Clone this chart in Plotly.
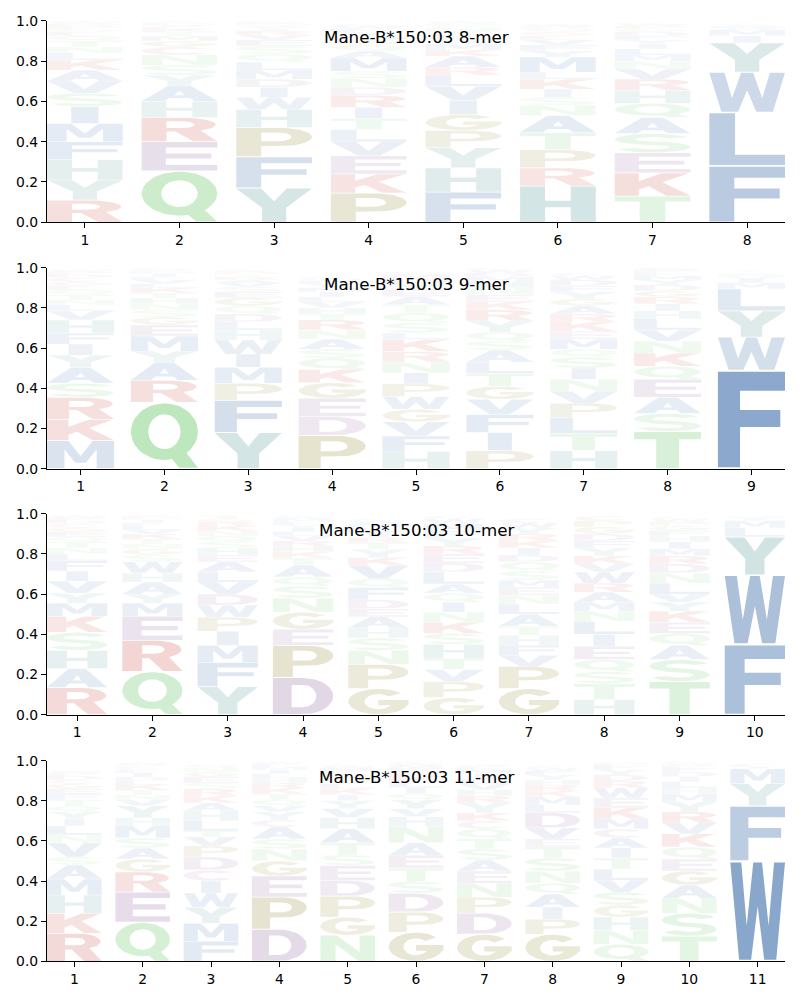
import numpy as np
import plotly.graph_objects as go

# ---------------- data ----------------
allele = "Mane-B*150:03"
lengths = [8, 9, 10, 11]

# letters of each position, bottom to top, and their heights (probabilities)
mer8_letters = ["RYHFMISVAKLNTQEGPDWC", "QERHAYSNCGMTKLVDFIPW", "YFPHWIDMLQSEVRTANKGC",
                "PKEVLTIRDNSMAQGHYFWC", "FHYPGIVLRAKMSETNQDWC", "HRPTANSIKLMYFVEGQDWC",
                "TKESAQHRVNMLIYFDGPWC", "FLWYIMVHACKREDSTNQGP"]
mer8_heights = [
    [.11, .10, .10, .09, .09, .085, .065, .06, .055, .05, .035, .03, .03, .025, .02, .015, .015, .01, .01, .005],
    [.255, .145, .12, .08, .08, .05, .05, .05, .04, .03, .025, .02, .015, .01, .01, .008, .005, .004, .003, .002],
    [.17, .155, .145, .09, .06, .05, .04, .045, .04, .04, .04, .03, .025, .02, .015, .01, .01, .008, .005, .002],
    [.145, .095, .09, .07, .06, .055, .055, .06, .04, .045, .035, .065, .035, .03, .025, .02, .02, .015, .015, .01],
    [.15, .12, .10, .085, .08, .07, .07, .055, .04, .055, .03, .03, .025, .02, .02, .015, .01, .01, .01, .005],
    [.18, .09, .09, .085, .085, .05, .04, .04, .05, .035, .075, .03, .03, .025, .02, .02, .015, .01, .01, .005],
    [.13, .115, .10, .095, .08, .07, .065, .055, .05, .04, .03, .03, .025, .02, .02, .02, .015, .015, .01, .005],
    [.28, .265, .20, .145, .035, .03, .01, .008, .005, .003, .003, .002, .002, .002, .002, .002, .001, .001, .001, .001],
]

mer9_letters = ["MKRSAYIFHVLNTQEGCDPW", "QRAYMEGSNHTKLVFIDPCW", "YFPMIWHLDQGESVARTNKC",
                "PDEGKQSANRTHVLIMYFWC", "HFVGWPINRKLSQTAEYDMC", "PIFVGTLASQYRKENHMDWC",
                "HTLPVNISQMEKRAGYFDWC", "TSAEQKNVLHIRGDYMFPWC", "FWYLMIVHACKREDSTNQGP"]
mer9_heights = [
    [.14, .105, .11, .07, .08, .06, .055, .055, .065, .045, .03, .025, .025, .025, .02, .02, .02, .015, .015, .01],
    [.33, .11, .09, .055, .075, .055, .04, .035, .03, .03, .025, .025, .02, .02, .015, .015, .01, .01, .01, .005],
    [.18, .16, .085, .08, .065, .07, .05, .04, .04, .04, .04, .03, .025, .02, .015, .015, .01, .01, .01, .005],
    [.165, .095, .09, .078, .065, .057, .045, .05, .045, .05, .03, .03, .03, .025, .025, .02, .02, .015, .01, .01],
    [.085, .078, .07, .063, .063, .063, .055, .056, .05, .06, .033, .05, .05, .04, .04, .035, .03, .025, .02, .015],
    [.09, .09, .09, .075, .065, .065, .055, .06, .045, .045, .055, .055, .04, .035, .035, .03, .025, .02, .015, .01],
    [.09, .085, .08, .07, .06, .06, .055, .055, .04, .05, .04, .045, .04, .04, .035, .035, .03, .03, .02, .015],
    [.185, .09, .08, .09, .065, .065, .06, .055, .055, .04, .035, .035, .03, .03, .025, .02, .015, .015, .005, .005],
    [.49, .165, .13, .11, .03, .02, .01, .01, .005, .005, .003, .003, .002, .002, .002, .002, .002, .002, .001, .001],
]

mer10_letters = ["RAHSKMYVIFLNTQEGCDPW", "QREMYAHWSGNTKVLFIDPC", "YFMIPWDVLAEHSQNKRGTC",
                 "DPEGNSQATKHRVLIYFMWC", "GPNSHAEDFQVKYTRILMWC", "GPVTHSKNIQALDERYFMWC",
                 "GPVFHTALNEMSQDIKRYWC", "HTSQEILNMARWVKYFDGPC", "TSAQEKYVLNDRMIHFGPWC",
                 "FWYLMIVHACDEGKNPQRST"]
mer10_heights = [
    [.135, .095, .09, .09, .08, .065, .05, .06, .05, .05, .035, .03, .03, .025, .025, .02, .02, .015, .015, .01],
    [.215, .155, .12, .065, .045, .06, .045, .055, .035, .03, .025, .025, .025, .02, .02, .015, .015, .01, .01, .005],
    [.14, .12, .085, .07, .07, .06, .055, .06, .05, .05, .035, .035, .03, .03, .025, .025, .02, .015, .015, .005],
    [.185, .16, .08, .085, .07, .06, .045, .06, .035, .03, .03, .025, .025, .02, .02, .015, .015, .015, .01, .005],
    [.13, .12, .07, .062, .05, .055, .04, .045, .06, .045, .065, .04, .04, .035, .025, .025, .025, .02, .015, .01],
    [.085, .08, .06, .055, .07, .055, .055, .05, .05, .045, .045, .06, .045, .045, .04, .04, .035, .035, .025, .015],
    [.13, .11, .055, .05, .05, .045, .06, .05, .045, .04, .035, .045, .045, .035, .035, .035, .035, .03, .025, .02],
    [.075, .08, .06, .06, .065, .06, .065, .05, .045, .05, .045, .055, .04, .04, .04, .035, .035, .035, .03, .025],
    [.165, .11, .07, .06, .055, .055, .045, .04, .055, .05, .045, .04, .035, .035, .03, .025, .025, .02, .015, .01],
    [.35, .345, .19, .045, .035, .01, .005, .005, .002, .002, .001, .001, .001, .001, .001, .001, .001, .001, .001, .001],
]

mer11_letters = ["RKHMASVNLIYQTFEGCDPW", "QERGASMHYVNTKLDIFCPW", "FMYWICDPVTLHAKRSEGNQ",
                 "DPEGNSACYVQTKRHLIMFW", "NGPDESTAHVYIKLQRFMWC", "GPDSTEANHVYQILKRFMWC",
                 "GDPNEASTQCKYRHVLIMFW", "GPIAQNSTEVDLMKRHYFWC", "QNHGSVLTIACMKEWRDYFP",
                 "TSNAGEQKVRYMHLIDFPWC", "WFYMILVHACDEGKNPQRST"]
mer11_heights = [
    [.14, .10, .09, .08, .07, .04, .07, .04, .045, .035, .035, .03, .03, .03, .025, .025, .02, .02, .015, .01],
    [.195, .15, .10, .065, .055, .05, .06, .04, .06, .03, .025, .025, .025, .02, .02, .02, .015, .015, .01, .01],
    [.10, .09, .08, .07, .06, .055, .065, .055, .045, .03, .05, .05, .04, .035, .035, .03, .03, .025, .02, .015],
    [.16, .16, .105, .075, .06, .05, .06, .035, .04, .03, .03, .03, .03, .025, .025, .02, .02, .015, .015, .01],
    [.13, .09, .105, .078, .075, .053, .06, .07, .055, .045, .04, .03, .03, .025, .025, .02, .015, .015, .01, .01],
    [.145, .10, .094, .06, .066, .063, .063, .08, .05, .04, .045, .03, .03, .03, .025, .02, .02, .015, .01, .01],
    [.135, .105, .08, .07, .06, .055, .055, .05, .05, .04, .04, .05, .035, .03, .03, .025, .025, .02, .015, .01],
    [.135, .075, .06, .065, .055, .06, .065, .055, .04, .055, .075, .04, .04, .03, .03, .025, .025, .02, .015, .01],
    [.085, .07, .065, .06, .065, .06, .055, .055, .05, .05, .045, .05, .055, .05, .05, .035, .03, .025, .02, .015],
    [.125, .115, .075, .065, .07, .06, .06, .065, .055, .055, .05, .04, .03, .03, .025, .025, .02, .015, .01, .01],
    [.50, .275, .11, .075, .01, .01, .005, .003, .001, .001, .001, .001, .001, .001, .001, .001, .001, .001, .001, .001],
]

panels_letters = [mer8_letters, mer9_letters, mer10_letters, mer11_letters]
panels_heights = [mer8_heights, mer9_heights, mer10_heights, mer11_heights]

# ---------------- style ----------------
BLUE, TEAL, GREEN = (60, 108, 169), (70, 145, 140), (95, 195, 95)
RED, PURPLE, OLIVE, MAUVE = (195, 55, 45), (135, 90, 150), (140, 130, 35), (175, 95, 140)
base_color = {}
for k in "FWLMIVA":
    base_color[k] = BLUE
for k in "YH":
    base_color[k] = TEAL
for k in "QNST":
    base_color[k] = GREEN
for k in "RK":
    base_color[k] = RED
for k in "DE":
    base_color[k] = PURPLE
for k in "PG":
    base_color[k] = OLIVE
base_color["C"] = MAUVE

FONT = "DejaVu Sans"


# ---------------- glyph outlines in a unit box ----------------
def arc(cx, cy, rx, ry, a0, a1, n=28):
    t = np.radians(np.linspace(a0, a1, n))
    return list(zip(cx + rx * np.cos(t), cy + ry * np.sin(t)))


def rect(x0, y0, x1, y1):
    return [(x0, y0), (x1, y0), (x1, y1), (x0, y1)]


def glyph(ch):
    if ch == "A":
        return [[(0, 0), (0.3, 0), (0.37, 0.2), (0.63, 0.2), (0.7, 0), (1, 0), (0.64, 1), (0.36, 1)],
                [(0.43, 0.37), (0.5, 0.66), (0.57, 0.37)]]
    if ch == "C":
        return [arc(.5, .5, .5, .5, 42, 318, 40) + arc(.5, .5, .23, .3, 318, 42, 40)]
    if ch == "D":
        return [[(0, 0), (0.5, 0)] + arc(.5, .5, .5, .5, -90, 90) + [(0, 1)],
                [(0.31, 0.19), (0.31, 0.81)] + arc(.5, .5, .22, .31, 90, -90)]
    if ch == "E":
        return [[(0, 0), (1, 0), (1, 0.19), (0.32, 0.19), (0.32, 0.42), (0.92, 0.42), (0.92, 0.6),
                 (0.32, 0.6), (0.32, 0.81), (1, 0.81), (1, 1), (0, 1)]]
    if ch == "F":
        return [[(0, 0), (0.33, 0), (0.33, 0.42), (0.93, 0.42), (0.93, 0.6), (0.33, 0.6),
                 (0.33, 0.8), (1, 0.8), (1, 1), (0, 1)]]
    if ch == "G":
        return [arc(.5, .5, .5, .5, 42, 360, 40) + arc(.5, .5, .23, .3, 360, 42, 40),
                rect(0.5, 0.36, 1.0, 0.56)]
    if ch == "H":
        return [[(0, 0), (0.33, 0), (0.33, 0.41), (0.67, 0.41), (0.67, 0), (1, 0), (1, 1), (0.67, 1),
                 (0.67, 0.6), (0.33, 0.6), (0.33, 1), (0, 1)]]
    if ch == "I":
        return [rect(0.32, 0, 0.68, 1)]
    if ch == "K":
        return [[(0, 0), (0.32, 0), (0.32, 0.28), (0.45, 0.42), (0.68, 0), (1, 0), (0.63, 0.6),
                 (0.98, 1), (0.62, 1), (0.32, 0.65), (0.32, 1), (0, 1)]]
    if ch == "L":
        return [[(0, 0), (1, 0), (1, 0.2), (0.34, 0.2), (0.34, 1), (0, 1)]]
    if ch == "M":
        return [[(0, 0), (0.26, 0), (0.26, 0.7), (0.42, 0.2), (0.58, 0.2), (0.74, 0.7), (0.74, 0),
                 (1, 0), (1, 1), (0.68, 1), (0.5, 0.45), (0.32, 1), (0, 1)]]
    if ch == "N":
        return [[(0, 0), (0.28, 0), (0.28, 0.65), (0.7, 0), (1, 0), (1, 1), (0.72, 1), (0.72, 0.35),
                 (0.3, 1), (0, 1)]]
    if ch == "P":
        return [[(0, 0), (0.33, 0), (0.33, 0.36), (0.58, 0.36)] + arc(.58, .68, .42, .32, -90, 90) + [(0, 1)],
                [(0.33, 0.53), (0.33, 0.84), (0.56, 0.84)] + arc(.56, .685, .17, .155, 90, -90)]
    if ch == "Q":
        return [arc(.5, .56, .5, .44, 0, 360, 48),
                arc(.5, .56, .24, .27, 360, 0, 48),
                [(0.5, 0.28), (0.72, 0.0), (1.0, 0.0), (0.78, 0.3)]]
    if ch == "R":
        return [[(0, 0), (0.33, 0), (0.33, 0.42), (0.56, 0.42)] + arc(.56, .71, .42, .29, -90, 90) + [(0, 1)],
                [(0.33, 0.57), (0.33, 0.85), (0.54, 0.85)] + arc(.54, .71, .16, .14, 90, -90),
                [(0.42, 0.47), (0.68, 0), (1, 0), (0.76, 0.5)]]
    if ch == "S":
        cu, cl = 0.7075, 0.2925
        return [arc(.5, cu, .5, .2925, 22, 270) + arc(.5, cl, .23, .1225, 90, -158)
                + arc(.5, cl, .5, .2925, -158, 90) + arc(.5, cu, .23, .1225, 270, 22)]
    if ch == "T":
        return [[(0.33, 0), (0.67, 0), (0.67, 0.8), (1, 0.8), (1, 1), (0, 1), (0, 0.8), (0.33, 0.8)]]
    if ch == "V":
        return [[(0, 1), (0.33, 1), (0.5, 0.33), (0.67, 1), (1, 1), (0.65, 0), (0.35, 0)]]
    if ch == "W":
        return [[(0, 1), (0.2, 1), (0.3, 0.35), (0.42, 1), (0.58, 1), (0.7, 0.35), (0.8, 1), (1, 1),
                 (0.84, 0), (0.62, 0), (0.5, 0.55), (0.38, 0), (0.16, 0)]]
    if ch == "Y":
        return [[(0, 1), (0.33, 1), (0.5, 0.62), (0.67, 1), (1, 1), (0.66, 0.42), (0.66, 0),
                 (0.34, 0), (0.34, 0.42)]]
    return [rect(0, 0, 1, 1)]


# ---------------- figure ----------------
fig = go.Figure()
OFF = 8.0  # page body offset of the plot div, in px
x_dom = [(47 - OFF) / 800, (785 - OFF) / 800]
px_rows = [(20.7, 222.3), (267.7, 468.7), (513.7, 714.7), (760.7, 961.3)]
y_doms = [[1 - (b - OFF) / 1000, 1 - (t - OFF) / 1000] for t, b in px_rows]
half_w = 0.4
vpad = 0.015

for p, (n, letters, heights) in enumerate(zip(lengths, panels_letters, panels_heights)):
    ax = "" if p == 0 else str(p + 1)
    for j, (col_letters, col_h) in enumerate(zip(letters, heights)):
        pos = j + 1
        y0 = 0.0
        for ch, h in zip(col_letters, col_h):
            xs, ys = [], []
            ybot = y0 + vpad * h
            ytop = y0 + h - vpad * h
            for ring in glyph(ch):
                for gx, gy in ring:
                    xs.append(pos - half_w + 2 * half_w * gx)
                    ys.append(ybot + (ytop - ybot) * gy)
                xs.append(xs[-len(ring)])
                ys.append(ys[-len(ring)])
                xs.append(None)
                ys.append(None)
            a = min(1.0, 0.03 + 1.15 * h)
            r, g, b = base_color[ch]
            fig.add_trace(go.Scatter(
                x=xs, y=ys, mode="lines", fill="toself",
                fillcolor=f"rgba({r},{g},{b},{a:.3f})",
                line=dict(width=0, color="rgba(0,0,0,0)"),
                hoverinfo="skip", showlegend=False,
                xaxis="x" + ax, yaxis="y" + ax))
            y0 += h

    axis_common = dict(showgrid=False, zeroline=False, showline=True, linecolor="black",
                       linewidth=1.1, ticks="outside", ticklen=5, tickwidth=1.1,
                       tickcolor="black", tickfont=dict(family=FONT, size=13.9, color="black"),
                       fixedrange=True, automargin=False)
    fig.layout["xaxis" + ax] = dict(domain=x_dom, range=[0.6, n + 0.4],
                                     tickmode="array", tickvals=list(range(1, n + 1)),
                                     ticktext=[str(i) for i in range(1, n + 1)],
                                     anchor="y" + ax, **axis_common)
    fig.layout["yaxis" + ax] = dict(domain=y_doms[p], range=[0, 1],
                                     tickmode="array", tickvals=[0, 0.2, 0.4, 0.6, 0.8, 1.0],
                                     ticktext=["0.0", "0.2", "0.4", "0.6", "0.8", "1.0"],
                                     anchor="x" + ax, **axis_common)
    fig.add_annotation(text=f"{allele} {n}-mer", xref=f"x{ax} domain", yref=f"y{ax} domain",
                       x=0.5, y=0.921, xanchor="center", yanchor="middle", showarrow=False,
                       font=dict(family=FONT, size=16.7, color="black"))

fig.update_layout(width=800, height=1000, margin=dict(l=0, r=0, t=0, b=0),
                  paper_bgcolor="white", plot_bgcolor="white", showlegend=False)

fig.write_html("out.html")
